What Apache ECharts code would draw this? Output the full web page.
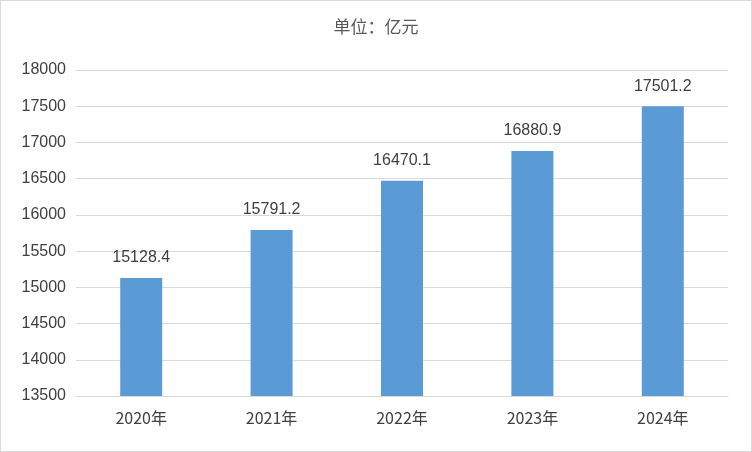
<!DOCTYPE html>
<html><head><meta charset="utf-8">
<script src="https://cdn.jsdelivr.net/npm/echarts@6/dist/echarts.min.js"></script>
<style>html,body{margin:0;padding:0;background:#fff}#c{width:750px;height:450px;border:1px solid #d9d9d9}</style>
</head><body><div id="c"></div>
<script>
const categories = ['2020年','2021年','2022年','2023年','2024年'];
const values = [15128.4, 15791.2, 16470.1, 16880.9, 17501.2];
const chart = echarts.init(document.getElementById('c'));
chart.setOption({
  animation:false,
  title:{text:'单位：亿元',left:'center',top:12,textStyle:{fontSize:17,fontWeight:'normal',color:'#595959',fontFamily:'Noto Sans CJK SC'}},
  grid:{left:75,right:23,top:69,bottom:55},
  xAxis:{type:'category',data:categories,axisTick:{show:false},
    axisLine:{lineStyle:{color:'#d9d9d9'}},
    axisLabel:{fontSize:16,color:'#404040',margin:14,fontFamily:'Noto Sans CJK SC'}},
  yAxis:{type:'value',min:13500,max:18000,interval:500,
    axisLabel:{fontSize:16,color:'#404040',margin:10,fontFamily:'Liberation Sans',formatter:v=>String(v)},
    splitLine:{lineStyle:{color:'#d9d9d9'}}},
  series:[{type:'bar',data:values,barWidth:42,itemStyle:{color:'#5b9bd5'},
    label:{show:true,position:'top',distance:12,fontSize:16,color:'#404040',fontFamily:'Liberation Sans',formatter:p=>p.value.toFixed(1)}}]
});
</script></body></html>
